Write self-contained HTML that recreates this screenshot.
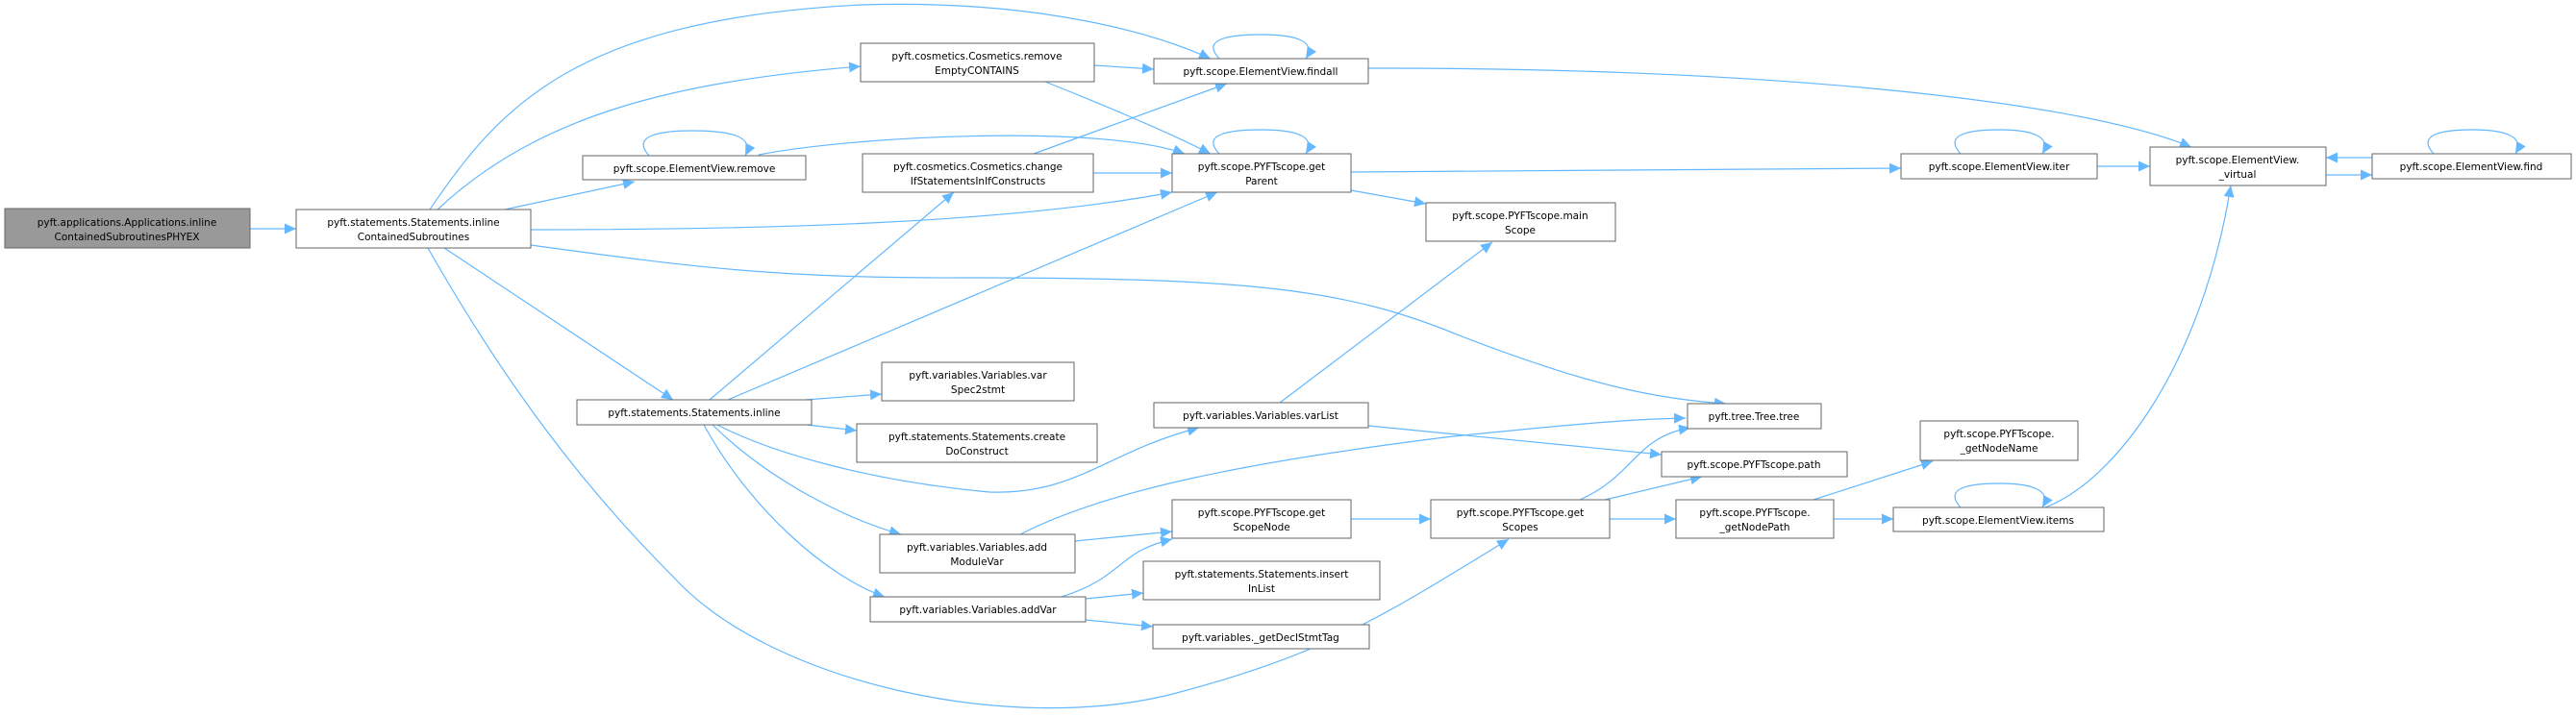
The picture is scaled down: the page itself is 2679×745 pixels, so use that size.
<!DOCTYPE html>
<html><head><meta charset="utf-8"><style>
html,body{margin:0;padding:0;background:#fff;}
svg{display:block;}
text{font-family:"DejaVu Sans","Liberation Sans",sans-serif;font-size:10.5px;fill:#000;text-anchor:middle;}
.n{fill:#fff;stroke:#666;stroke-width:1;}
.e{fill:none;stroke:#63b8ff;stroke-width:1.2;}
</style></head><body>
<svg width="2679" height="745" viewBox="0 0 2679 745" xmlns="http://www.w3.org/2000/svg">
<defs><marker id="a" markerUnits="userSpaceOnUse" markerWidth="14" markerHeight="12" refX="12" refY="5.5" orient="auto"><path d="M0,0 L12,5.5 L0,11 z" fill="#63b8ff"/></marker></defs>
<g marker-end="url(#a)">
<path class="e" d="M260,238 L308,238"/>
<path class="e" d="M447,218 C520,110 600,20 896,5 C1050,0 1180,25 1259,61"/>
<path class="e" d="M455,218 C560,120 700,85 895,69"/>
<path class="e" d="M525,218 L660,189"/>
<path class="e" d="M552,239 C800,239 1050,232 1219,200"/>
<path class="e" d="M552,255 C700,275 800,290 1000,289 C1300,289 1400,300 1520,350 C1650,400 1720,415 1795,420"/>
<path class="e" d="M462,258 L700,416"/>
<path class="e" d="M445,258 C520,390 600,500 700,600 C800,710 1050,765 1220,722 C1380,680 1440,640 1569,561"/>
<path class="e" d="M789,161 C900,140 1150,130 1232,160"/>
<path class="e" d="M1138,68 L1200,72"/>
<path class="e" d="M1087,85 C1150,110 1220,140 1259,160"/>
<path class="e" d="M1075,160 L1276,87"/>
<path class="e" d="M1137,180 L1219,180"/>
<path class="e" d="M1423,71 C1800,70 2150,100 2279,153"/>
<path class="e" d="M1405,179 L1977,175"/>
<path class="e" d="M1405,198 L1483,212"/>
<path class="e" d="M2181,173 L2236,173"/>
<path class="e" d="M2467,164 L2419,164"/>
<path class="e" d="M2419,182 L2467,182"/>
<path class="e" d="M2127,528 C2200,500 2290,380 2320,193"/>
<path class="e" d="M738,416 L992,200"/>
<path class="e" d="M757,416 L1266,200"/>
<path class="e" d="M838,416 L917,410"/>
<path class="e" d="M839,442 L891,448"/>
<path class="e" d="M746,442 C800,470 900,500 1029,512 C1120,515 1150,470 1247,445"/>
<path class="e" d="M741,442 C800,500 880,540 937,556"/>
<path class="e" d="M732,442 C780,530 860,600 920,621"/>
<path class="e" d="M1061,556 C1150,510 1300,480 1511,454 C1650,440 1700,436 1753,435"/>
<path class="e" d="M1118,563 L1219,553"/>
<path class="e" d="M1104,621 C1170,600 1160,575 1219,561"/>
<path class="e" d="M1129,623 L1189,617"/>
<path class="e" d="M1129,645 L1199,652"/>
<path class="e" d="M1405,540 L1488,540"/>
<path class="e" d="M1643,520 C1700,495 1700,455 1758,445"/>
<path class="e" d="M1669,520 L1770,496"/>
<path class="e" d="M1674,540 L1743,540"/>
<path class="e" d="M1331,419 L1552,252"/>
<path class="e" d="M1423,443 L1728,473"/>
<path class="e" d="M1886,520 L2010,480"/>
<path class="e" d="M1907,540 L1969,540"/>
<path class="e" d="M675,162 C655,140 690,136 720,136 C760,136 785,142 775,162"/>
<path class="e" d="M1268,61 C1248,40 1280,36 1312,36 C1345,36 1370,42 1358,61"/>
<path class="e" d="M1268,160 C1248,139 1280,135 1312,135 C1345,135 1370,141 1358,160"/>
<path class="e" d="M2039,160 C2020,139 2050,135 2080,135 C2110,135 2135,141 2124,160"/>
<path class="e" d="M2531,160 C2512,139 2542,135 2572,135 C2602,135 2627,141 2616,160"/>
<path class="e" d="M2039,528 C2020,507 2050,503 2080,503 C2110,503 2135,509 2124,528"/>
</g>
<rect x="5" y="217" width="255" height="41" fill="#999" stroke="#666"/>
<text x="132" y="235">pyft.applications.Applications.inline</text><text x="132" y="250">ContainedSubroutinesPHYEX</text>
<rect class="n" x="308" y="218" width="244" height="40"/>
<text x="430" y="235">pyft.statements.Statements.inline</text><text x="430" y="250">ContainedSubroutines</text>
<rect class="n" x="606" y="162" width="232" height="25"/><text x="722" y="179">pyft.scope.ElementView.remove</text>
<rect class="n" x="600" y="416" width="244" height="26"/><text x="722" y="433">pyft.statements.Statements.inline</text>
<rect class="n" x="895" y="45" width="243" height="40"/><text x="1016" y="62">pyft.cosmetics.Cosmetics.remove</text><text x="1016" y="77">EmptyCONTAINS</text>
<rect class="n" x="1200" y="61" width="223" height="26"/><text x="1311" y="78">pyft.scope.ElementView.findall</text>
<rect class="n" x="897" y="160" width="240" height="40"/><text x="1017" y="177">pyft.cosmetics.Cosmetics.change</text><text x="1017" y="192">IfStatementsInIfConstructs</text>
<rect class="n" x="1219" y="160" width="186" height="40"/><text x="1312" y="177">pyft.scope.PYFTscope.get</text><text x="1312" y="192">Parent</text>
<rect class="n" x="1483" y="211" width="197" height="40"/><text x="1581" y="228">pyft.scope.PYFTscope.main</text><text x="1581" y="243">Scope</text>
<rect class="n" x="917" y="377" width="200" height="40"/><text x="1017" y="394">pyft.variables.Variables.var</text><text x="1017" y="409">Spec2stmt</text>
<rect class="n" x="891" y="441" width="250" height="40"/><text x="1016" y="458">pyft.statements.Statements.create</text><text x="1016" y="473">DoConstruct</text>
<rect class="n" x="1200" y="419" width="223" height="26"/><text x="1311" y="436">pyft.variables.Variables.varList</text>
<rect class="n" x="915" y="556" width="203" height="40"/><text x="1016" y="573">pyft.variables.Variables.add</text><text x="1016" y="588">ModuleVar</text>
<rect class="n" x="1219" y="520" width="186" height="40"/><text x="1312" y="537">pyft.scope.PYFTscope.get</text><text x="1312" y="552">ScopeNode</text>
<rect class="n" x="1488" y="520" width="186" height="40"/><text x="1581" y="537">pyft.scope.PYFTscope.get</text><text x="1581" y="552">Scopes</text>
<rect class="n" x="905" y="621" width="224" height="26"/><text x="1017" y="638">pyft.variables.Variables.addVar</text>
<rect class="n" x="1189" y="584" width="246" height="40"/><text x="1312" y="601">pyft.statements.Statements.insert</text><text x="1312" y="616">InList</text>
<rect class="n" x="1199" y="650" width="225" height="25"/><text x="1311" y="667">pyft.variables._getDeclStmtTag</text>
<rect class="n" x="1755" y="420" width="139" height="26"/><text x="1824" y="437">pyft.tree.Tree.tree</text>
<rect class="n" x="1728" y="470" width="193" height="26"/><text x="1824" y="487">pyft.scope.PYFTscope.path</text>
<rect class="n" x="1743" y="520" width="164" height="40"/><text x="1825" y="537">pyft.scope.PYFTscope.</text><text x="1825" y="552">_getNodePath</text>
<rect class="n" x="1977" y="160" width="204" height="26"/><text x="2079" y="177">pyft.scope.ElementView.iter</text>
<rect class="n" x="2236" y="153" width="183" height="40"/><text x="2327" y="170">pyft.scope.ElementView.</text><text x="2327" y="185">_virtual</text>
<rect class="n" x="2467" y="160" width="207" height="26"/><text x="2570" y="177">pyft.scope.ElementView.find</text>
<rect class="n" x="1997" y="438" width="164" height="41"/><text x="2079" y="455">pyft.scope.PYFTscope.</text><text x="2079" y="470">_getNodeName</text>
<rect class="n" x="1969" y="528" width="219" height="25"/><text x="2078" y="545">pyft.scope.ElementView.items</text>
</svg>
</body></html>
